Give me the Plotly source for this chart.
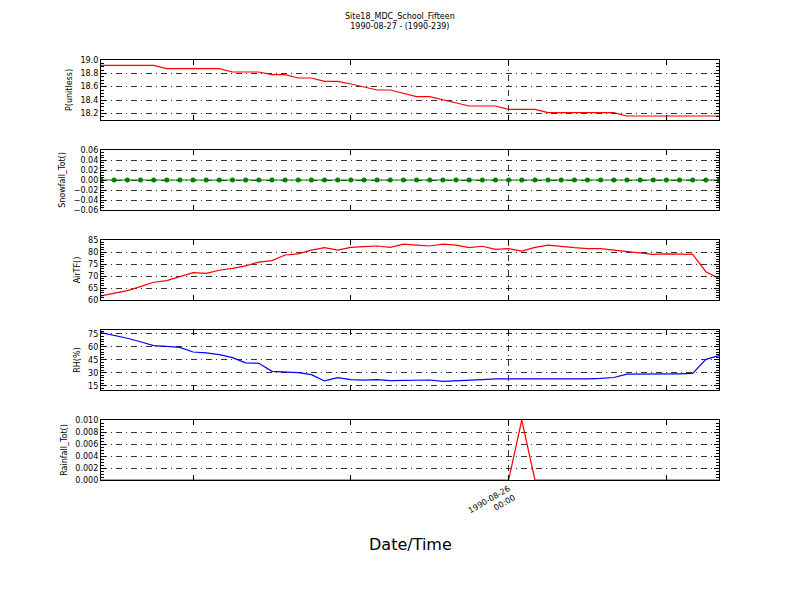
import pandas as pd
import plotly.graph_objects as go

# ---------------- data ----------------
times = pd.date_range("1990-08-24 17:00", periods=48, freq="h")

p_unitless = [18.92, 18.92, 18.92, 18.92, 18.92, 18.87, 18.87, 18.87, 18.87, 18.87,
              18.82, 18.82, 18.82, 18.78, 18.78, 18.73, 18.73, 18.68, 18.68, 18.64,
              18.59, 18.55, 18.55, 18.50, 18.45, 18.45, 18.40, 18.36, 18.31, 18.31,
              18.31, 18.26, 18.26, 18.26, 18.21, 18.21, 18.21, 18.21, 18.21, 18.21,
              18.16, 18.16, 18.16, 18.16, 18.16, 18.16, 18.16, 18.16]

snowfall_tot = [0.0] * 48

air_tf = [61.7, 62.8, 63.9, 65.6, 67.4, 68.1, 69.7, 71.4, 71.1, 72.4,
          73.2, 74.2, 75.8, 76.4, 78.75, 79.2, 80.8, 81.8, 80.8, 81.9,
          82.2, 82.5, 81.9, 83.3, 82.9, 82.5, 83.3, 82.9, 81.8, 82.4,
          81.1, 81.4, 80.4, 81.9, 82.9, 82.2, 81.8, 81.4, 81.4, 80.8,
          80.1, 79.7, 79.0, 79.2, 79.0, 79.0, 71.8, 69.0]

rh_pct = [76.5, 73.5, 70.0, 66.0, 61.4, 60.7, 59.5, 54.1, 53.0, 51.0,
          47.5, 41.4, 41.0, 31.7, 30.5, 30.1, 27.8, 20.5, 24.3, 22.0,
          21.5, 22.0, 20.8, 21.0, 21.6, 21.6, 20.1, 20.5, 21.2, 22.0,
          22.8, 22.8, 23.0, 22.6, 22.5, 22.6, 22.8, 23.0, 23.4, 24.5,
          28.3, 28.3, 29.0, 29.0, 28.8, 29.2, 45.6, 49.8]

rainfall_tot = [0.0] * 48
rainfall_tot[32] = 0.01

panel_names = ["P(unitless)", "Snowfall_Tot()", "AirTF()", "RH(%)", "Rainfall_Tot()"]
y_ranges = [[18.1, 19.0], [-0.06, 0.06], [60, 85], [10, 79.6], [0, 0.010]]
y_dticks = [0.2, 0.02, 5, 15, 0.002]
y_tick0 = [18.2, -0.06, 60, 15, 0]
y_minor = [0.05, 0.005, 1, 3, 0.0005]
y_formats = [".1f", ".2f", "d", "d", ".3f"]

major_tick = pd.Timestamp("1990-08-26 00:00")
major_tick_text = "1990-08-26<br>00:00"
minor_ticks = [pd.Timestamp("1990-08-25 00:00"), pd.Timestamp("1990-08-25 12:00"),
               pd.Timestamp("1990-08-26 12:00")]

title_line1 = "Site18_MDC_School_Fifteen"
title_line2 = "1990-08-27 - (1990-239)"
x_label = "Date/Time"

# ---------------- figure ----------------
# page body has an 8px margin, so the figure sits at (8, 8)
OFF = 8
W, H = 784, 584
x_left, x_right = 101 - OFF, 719 - OFF
panel_tops = [t - OFF for t in [60, 150, 240, 330, 420]]
panel_h = 60

fig = go.Figure()
series = [p_unitless, snowfall_tot, air_tf, rh_pct, rainfall_tot]
colors = ["#ff0000", "#008000", "#ff0000", "#0000ff", "#ff0000"]

font_family = "DejaVu Sans"

for k in range(5):
    sfx = "" if k == 0 else str(k + 1)
    mode = "lines+markers" if k == 1 else "lines"
    fig.add_trace(go.Scatter(
        x=times, y=series[k], mode=mode,
        line=dict(color=colors[k], width=1.2),
        marker=dict(color=colors[k], size=5),
        xaxis="x" + sfx, yaxis="y" + sfx, showlegend=False,
    ))

    top = panel_tops[k]
    dom_y = [1 - (top + panel_h) / H, 1 - top / H]
    grid_common = dict(showgrid=True, gridcolor="rgba(0,0,0,0.8)", gridwidth=0.6,
                       griddash="6px,4px,1px,4px")
    fig.layout["xaxis" + sfx] = dict(
        domain=[x_left / W, x_right / W],
        anchor="y" + sfx,
        automargin=False,
        range=[times[0], times[-1]],
        type="date",
        tickmode="array", tickvals=[major_tick],
        ticktext=[major_tick_text],
        showticklabels=(k == 4),
        tickangle=-30,
        tickfont=dict(size=8, family=font_family, color="black"),
        ticks="inside", ticklen=5, tickcolor="black",
        minor=dict(tickmode="array", tickvals=minor_ticks, ticks="inside",
                   ticklen=5, tickcolor="black", showgrid=False),
        showline=True, linecolor="black", linewidth=1.3, mirror="ticks",
        zeroline=False,
        **grid_common,
    )
    fig.layout["yaxis" + sfx] = dict(
        domain=dom_y,
        anchor="x" + sfx,
        automargin=False,
        range=y_ranges[k],
        tickmode="linear", tick0=y_tick0[k], dtick=y_dticks[k],
        tickformat=y_formats[k],
        tickfont=dict(size=8, family=font_family, color="black"),
        ticks="inside", ticklen=5, tickcolor="black",
        minor=dict(dtick=y_minor[k], ticks="inside", ticklen=3,
                   tickcolor="black", showgrid=False),
        showline=True, linecolor="black", linewidth=1.3, mirror="ticks",
        zeroline=False,
        title=dict(text=panel_names[k], font=dict(size=8, family=font_family,
                                                   color="black"), standoff=6),
        **grid_common,
    )

fig.add_annotation(text=title_line1 + "<br>" + title_line2, xref="paper", yref="paper",
                   x=(400 - OFF) / W, y=1 - (22 - OFF) / H, showarrow=False,
                   xanchor="center", yanchor="middle",
                   font=dict(size=8, family=font_family, color="black"))
fig.add_annotation(text=x_label, xref="paper", yref="paper",
                   x=(410 - OFF) / W, y=1 - (544 - OFF) / H, showarrow=False,
                   xanchor="center", yanchor="middle",
                   font=dict(size=16, family=font_family, color="black"))

fig.update_layout(template="none", width=W, height=H,
                  margin=dict(l=0, r=0, t=0, b=0, pad=0),
                  paper_bgcolor="white", plot_bgcolor="white",
                  font=dict(family=font_family, color="black"))

fig.write_html("out.html")
